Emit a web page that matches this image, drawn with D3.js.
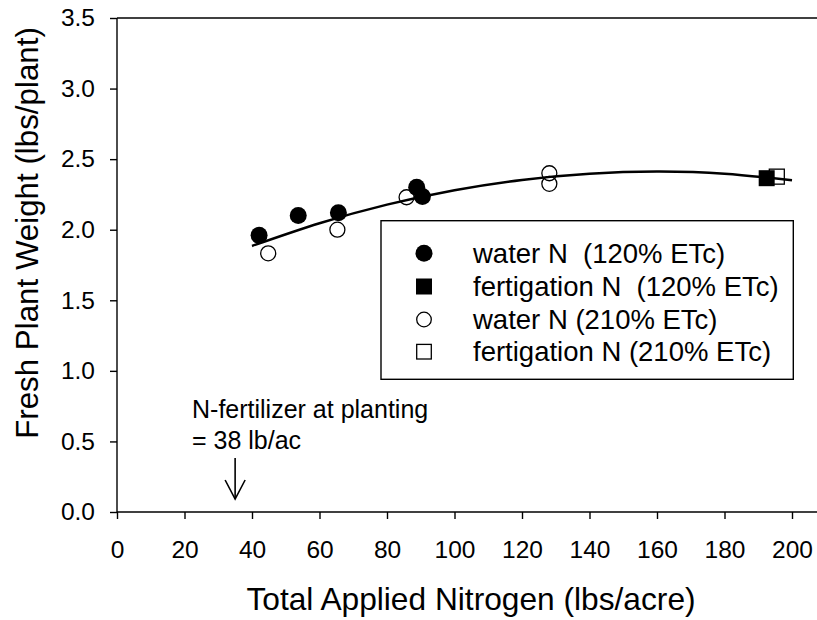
<!DOCTYPE html>
<html>
<head>
<meta charset="utf-8">
<script src="https://cdn.jsdelivr.net/npm/d3@7"></script>
<style>
  html, body { margin: 0; padding: 0; background: #fff; }
  svg { display: block; }
  text { font-family: "Liberation Sans", Arial, sans-serif; fill: #000; }
</style>
</head>
<body>
<div id="chart"></div>
<script>
// ---- Data ----
const water120X = [42.1, 53.7, 65.6, 88.8, 90.5];
const water120Y = [1.96, 2.10, 2.12, 2.30, 2.235];
const fert120X = [192.5];
const fert120Y = [2.365];
const water210X = [44.8, 65.3, 85.8, 128.1, 128.1];
const water210Y = [1.833, 2.00, 2.23, 2.40, 2.325];
const fert210X = [195.5];
const fert210Y = [2.376];
// fitted curve
const fitX = [40, 60, 80, 100, 120, 140, 160, 180, 200];
const fitY = [1.885, 2.046, 2.178, 2.280, 2.353, 2.397, 2.412, 2.397, 2.350];

const xTicks = [0, 20, 40, 60, 80, 100, 120, 140, 160, 180, 200];
const yTicks = [0, 0.5, 1.0, 1.5, 2.0, 2.5, 3.0, 3.5];
const legendLabels = ["water N  (120% ETc)", "fertigation N  (120% ETc)", "water N (210% ETc)", "fertigation N (210% ETc)"];
const xTitle = "Total Applied Nitrogen (lbs/acre)";
const yTitle = "Fresh Plant Weight (lbs/plant)";
const noteLines = ["N-fertilizer at planting", "= 38 lb/ac"];
const noteArrowX = 35;

// ---- Layout ----
const W = 817, H = 620;
const svg = d3.select("#chart").append("svg").attr("width", W).attr("height", H);

const x = d3.scaleLinear().domain([0, 200]).range([117, 792]);
const y = d3.scaleLinear().domain([0, 3.5]).range([512, 18]);

const FONT = "Liberation Sans, Arial, sans-serif";

// axes
const gx = svg.append("g").attr("transform", `translate(0,${y(0)})`)
  .call(d3.axisBottom(x).tickValues(xTicks).tickFormat(d3.format("d")).tickSize(7).tickSizeOuter(0).tickPadding(22));
gx.select(".domain").remove();
gx.selectAll("line").attr("stroke", "#000").attr("stroke-width", 1.4);
gx.selectAll("text").style("font-size", "24.5px").attr("font-family", FONT);

const gy = svg.append("g").attr("transform", `translate(${x(0)},0)`)
  .call(d3.axisLeft(y).tickValues(yTicks).tickFormat(d3.format(".1f")).tickSize(7).tickSizeOuter(0).tickPadding(15));
gy.select(".domain").remove();
gy.selectAll("line").attr("stroke", "#000").attr("stroke-width", 1.4);
gy.selectAll("text").style("font-size", "24.5px").attr("font-family", FONT);

// frame lines: left axis, bottom axis extended, top line
svg.append("line").attr("x1", x(0)).attr("x2", x(0)).attr("y1", y(3.5)).attr("y2", y(0))
  .attr("stroke", "#000").attr("stroke-width", 1.4);
svg.append("line").attr("x1", x(0)).attr("x2", W).attr("y1", y(0)).attr("y2", y(0))
  .attr("stroke", "#000").attr("stroke-width", 1.4);
svg.append("line").attr("x1", x(0)).attr("x2", W).attr("y1", y(3.5)).attr("y2", y(3.5))
  .attr("stroke", "#000").attr("stroke-width", 1.4);

// axis titles
svg.append("text").attr("x", 471).attr("y", 610).attr("text-anchor", "middle")
  .style("font-size", "31.7px").text(xTitle);
svg.append("text").attr("transform", "translate(38,233) rotate(-90)").attr("text-anchor", "middle")
  .style("font-size", "31.3px").text(yTitle);

// markers
const zip = (xs, ys) => xs.map((v, i) => ({ x: v, y: ys[i] }));
const pts = svg.append("g");
pts.selectAll("circle.w120").data(zip(water120X, water120Y)).enter().append("circle")
  .attr("cx", d => x(d.x)).attr("cy", d => y(d.y)).attr("r", 8.5).attr("fill", "#000");
pts.selectAll("circle.w210").data(zip(water210X, water210Y)).enter().append("circle")
  .attr("cx", d => x(d.x)).attr("cy", d => y(d.y)).attr("r", 7.5)
  .attr("fill", "none").attr("stroke", "#000").attr("stroke-width", 1.3);
pts.selectAll("rect.f210").data(zip(fert210X, fert210Y)).enter().append("rect")
  .attr("x", d => x(d.x) - 7.5).attr("y", d => y(d.y) - 7.5).attr("width", 15).attr("height", 15)
  .attr("fill", "none").attr("stroke", "#000").attr("stroke-width", 1.3);
pts.selectAll("rect.f120").data(zip(fert120X, fert120Y)).enter().append("rect")
  .attr("x", d => x(d.x) - 8).attr("y", d => y(d.y) - 8).attr("width", 16).attr("height", 16)
  .attr("fill", "#000");

// fitted curve
const line = d3.line().x(d => x(d.x)).y(d => y(d.y)).curve(d3.curveNatural);
svg.append("path").datum(zip(fitX, fitY)).attr("d", line)
  .attr("fill", "none").attr("stroke", "#000").attr("stroke-width", 2.5);

// legend
const lg = svg.append("g");
lg.append("rect").attr("x", 381).attr("y", 220.7).attr("width", 412.3).attr("height", 158.6)
  .attr("fill", "#fff").attr("stroke", "#000").attr("stroke-width", 1.4);
const rowY = [253.3, 286.5, 319.5, 351.7];
const mx = 424;
lg.append("circle").attr("cx", mx).attr("cy", rowY[0]).attr("r", 8.5).attr("fill", "#000");
lg.append("rect").attr("x", mx - 8).attr("y", rowY[1] - 8).attr("width", 16).attr("height", 16).attr("fill", "#000");
lg.append("circle").attr("cx", mx).attr("cy", rowY[2]).attr("r", 7.3).attr("fill", "none").attr("stroke", "#000").attr("stroke-width", 1.3);
lg.append("rect").attr("x", mx - 7.3).attr("y", rowY[3] - 7.3).attr("width", 14.6).attr("height", 14.6)
  .attr("fill", "none").attr("stroke", "#000").attr("stroke-width", 1.3);
legendLabels.forEach((t, i) => {
  lg.append("text").attr("x", 473).attr("y", rowY[i] + 9.7).style("font-size", "27.5px")
    .style("white-space", "pre").attr("xml:space", "preserve").text(t);
});

// annotation
noteLines.forEach((t, i) => {
  svg.append("text").attr("x", 192).attr("y", 418 + i * 31).style("font-size", "25px").text(t);
});
const ax = x(noteArrowX);
svg.append("line").attr("x1", ax).attr("x2", ax).attr("y1", 458).attr("y2", 499)
  .attr("stroke", "#000").attr("stroke-width", 1.6);
svg.append("path").attr("d", `M${ax - 10},${480} L${ax},${499} L${ax + 10},${480}`)
  .attr("fill", "none").attr("stroke", "#000").attr("stroke-width", 1.6);
</script>
</body>
</html>
